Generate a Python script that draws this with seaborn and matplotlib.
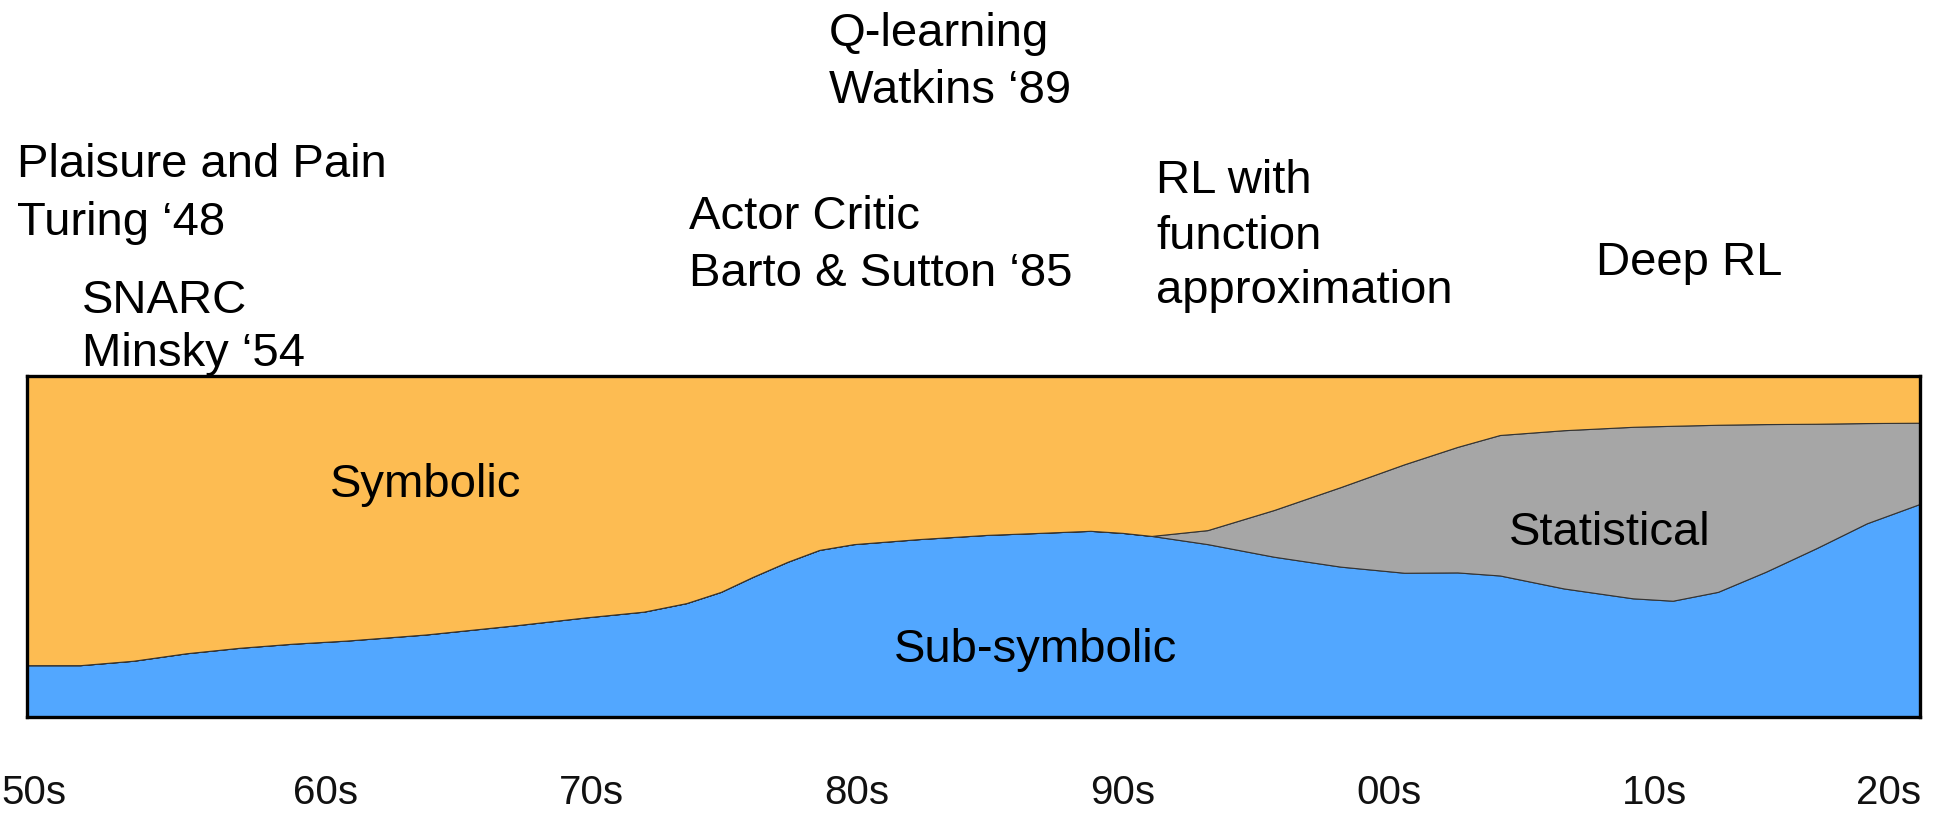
import matplotlib
matplotlib.use("Agg")
import matplotlib.pyplot as plt
import matplotlib.transforms as mtransforms
import seaborn as sns
import pandas as pd

# positions along the time axis (years)
years = [1950, 1952, 1954, 1956, 1958, 1960, 1962, 1965, 1968.5, 1971,
         1973.2, 1974.8, 1976.1, 1977.3, 1978.6, 1979.8, 1981.1, 1983.6,
         1986.1, 1988.1, 1990, 1991.2, 1992.3, 1994.4, 1996.9, 1999.4,
         2001.8, 2003.8, 2005.4, 2007.8, 2010.4, 2011.9, 2013.6, 2015.4,
         2017.3, 2019.2, 2021.2]

# top of the sub-symbolic band (share 0-100)
sub_symbolic = [15.2, 15.2, 16.5, 18.7, 20.3, 21.5, 22.4, 24.2, 27.0, 29.2,
                30.9, 33.4, 36.7, 41.1, 45.5, 49.0, 50.7, 52.2,
                53.4, 54.0, 54.6, 54.0, 53.1, 50.7, 47.0, 44.1,
                42.3, 42.4, 41.5, 37.7, 34.8, 34.1, 36.7, 42.6,
                49.5, 56.8, 62.5]
# top of the statistical band (only exists from the early 90s)
stat_top = [None] * 22 + [53.1, 54.8, 60.7, 67.4,
                          74.1, 79.2, 82.7, 84.1, 85.1, 85.4, 85.7, 85.9,
                          86.0, 86.2, 86.3]

tick_years = [1950, 1960, 1970, 1980, 1990, 2000, 2010, 2020]
tick_labels = ['50s', '60s', '70s', '80s', '90s', '00s', '10s', '20s']

df = pd.DataFrame({'year': years, 'sub_symbolic': sub_symbolic})
df['statistical'] = [0.0 if t is None else t - s for t, s in zip(stat_top, sub_symbolic)]
df['symbolic'] = 100 - df['sub_symbolic'] - df['statistical']

milestones = ['Plaisure and Pain', 'Turing \u201848', 'SNARC', 'Minsky \u201854',
              'Q-learning', 'Watkins \u201889', 'Actor Critic', 'Barto & Sutton \u201885',
              'RL with', 'function', 'approximation', 'Deep RL']
milestone_pos = [(17, 177), (17, 235), (82, 313), (82, 366),
                 (829, 46), (829, 103), (689, 229), (689, 286),
                 (1156, 193), (1156, 249), (1156, 303), (1596, 275)]

areas = ['Symbolic', 'Sub-symbolic', 'Statistical']
area_pos = [(330, 497), (894, 662), (1509, 545)]

blue = '#52a7ff'
grey = '#a6a6a6'
orange = '#fdbc52'

sns.set_theme(style="white")
plt.rcParams['font.family'] = ['Liberation Sans', 'DejaVu Sans']

W, H = 1939, 818
fig = plt.figure(figsize=(W / 100, H / 100), dpi=100)
ax = fig.add_axes([27 / W, 1 - 717 / H, (1920 - 27) / W, (717 - 376) / H])

ax.stackplot(df['year'], df['sub_symbolic'], df['statistical'], df['symbolic'],
             colors=[blue, grey, orange], edgecolor='#333333', linewidth=0.8)

ax.set_xlim(1950, 2021.2)
ax.set_ylim(0, 100)
ax.set_yticks([])
ax.set_xticks(tick_years)
ax.set_xticklabels(tick_labels, fontsize=29, color='#111111')
ax.tick_params(axis='x', length=0, pad=41)
# labels start at their decade; the first is pulled back to the figure edge,
# the last is centred on its tick so it stays inside the figure
labels = ax.get_xticklabels()
for lab in labels:
    lab.set_ha('left')
labels[-1].set_ha('center')
labels[0].set_transform(labels[0].get_transform() +
                        mtransforms.ScaledTranslation(-0.26, 0, fig.dpi_scale_trans))
ax.set_xlabel('')
ax.set_ylabel('')
for sp in ax.spines.values():
    sp.set_visible(True)
    sp.set_color('black')
    sp.set_linewidth(2.4)

for s, (x, y) in zip(milestones, milestone_pos):
    fig.text(x / W, 1 - y / H, s, fontsize=34, ha='left', va='baseline', color='black')

for s, (x, y) in zip(areas, area_pos):
    fig.text(x / W, 1 - y / H, s, fontsize=34, ha='left', va='baseline', color='black')

fig.savefig('out.png', dpi=100)
